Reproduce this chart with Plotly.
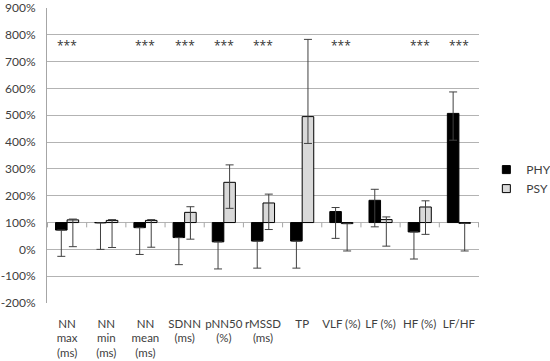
import plotly.graph_objects as go

categories = ["NN<br>max<br>(ms)", "NN<br>min<br>(ms)", "NN<br>mean<br>(ms)", "SDNN<br>(ms)",
              "pNN50<br>(%)", "rMSSD<br>(ms)", "TP", "VLF (%)", "LF (%)", "HF (%)", "LF/HF"]

phy = [72, 99, 81, 44, 28, 31, 31, 141, 183, 65, 507]
phy_plus = [0, 0, 0, 0, 0, 0, 0, 15, 41, 0, 80]
phy_minus = [98, 99, 100, 101, 101, 101, 101, 100, 99, 101, 100]

psy = [110, 108, 108, 138, 250, 173, 495, 96, 111, 158, 97]
psy_plus = [3, 3, 3, 21, 65, 33, 288, 0, 10, 23, 0]
psy_minus = [100, 101, 100, 100, 97, 99, 100, 102, 99, 102, 103]

signif = ["***", "", "***", "***", "***", "***", "", "***", "", "***", "***"]
baseline = 100
star_level = 760

y_ticks = list(range(-200, 1000, 100))
y_labels = [f"{v}%" for v in y_ticks]

FONT = "Lato"
TXT = "#404040"

fig = go.Figure()
fig.add_trace(go.Bar(
    name="PHY", x=categories, y=[v - baseline for v in phy], base=baseline, showlegend=False,
    marker=dict(color="#000000", line=dict(color="#000000", width=1)),
    error_y=dict(type="data", symmetric=False, array=phy_plus, arrayminus=phy_minus,
                 color="#404040", thickness=1, width=4),
))
fig.add_trace(go.Bar(
    name="PSY", x=categories, y=[v - baseline for v in psy], base=baseline, showlegend=False,
    marker=dict(color="#d9d9d9", line=dict(color="#000000", width=1)),
    error_y=dict(type="data", symmetric=False, array=psy_plus, arrayminus=psy_minus,
                 color="#404040", thickness=1, width=4),
))
# legend entries
fig.add_trace(go.Scatter(name="PHY", x=[None], y=[None], mode="markers",
                         marker=dict(symbol="square", size=8, color="#000000",
                                     line=dict(color="#000000", width=1))))
fig.add_trace(go.Scatter(name="PSY", x=[None], y=[None], mode="markers",
                         marker=dict(symbol="square", size=8, color="#d9d9d9",
                                     line=dict(color="#000000", width=1))))

for c, s in zip(categories, signif):
    if s:
        fig.add_annotation(x=c, y=star_level, text=s, showarrow=False,
                           font=dict(family="Open Sans", size=12, color="#333333"))

# category-axis tick marks crossing at 100%
for i in range(len(categories) + 1):
    fig.add_shape(type="line", xref="x", yref="y", x0=i - 0.5, x1=i - 0.5,
                  y0=baseline, y1=baseline - 18, line=dict(color="#a6a6a6", width=1))

fig.update_layout(
    width=550, height=361,
    margin=dict(l=47, r=71, t=8, b=58, autoexpand=False),
    paper_bgcolor="white", plot_bgcolor="white",
    barmode="group", bargap=0.41, bargroupgap=0,
    font=dict(family=FONT, size=12, color=TXT),
    showlegend=True,
    legend=dict(x=1.017, y=0.42, xanchor="left", yanchor="middle",
                font=dict(family=FONT, size=12, color=TXT),
                itemwidth=30, tracegroupgap=8, bgcolor="rgba(0,0,0,0)"),
    xaxis=dict(showgrid=False, showline=False, ticks="", tickangle=0, automargin=False,
               ticklabelstandoff=12, tickfont=dict(family=FONT, size=11.5, color=TXT)),
    yaxis=dict(range=[-200, 900], tickmode="array", tickvals=y_ticks, ticktext=y_labels,
               showgrid=True, gridcolor="#b3b3b3", gridwidth=1, automargin=False,
               zeroline=False, showline=True, linecolor="#a6a6a6", linewidth=1,
               ticks="", ticklabelstandoff=8,
               tickfont=dict(family=FONT, size=12, color=TXT)),
)

fig.write_html("out.html", config={"displayModeBar": False},
               post_script="document.body.style.margin='0px';document.body.style.padding='0px';")
